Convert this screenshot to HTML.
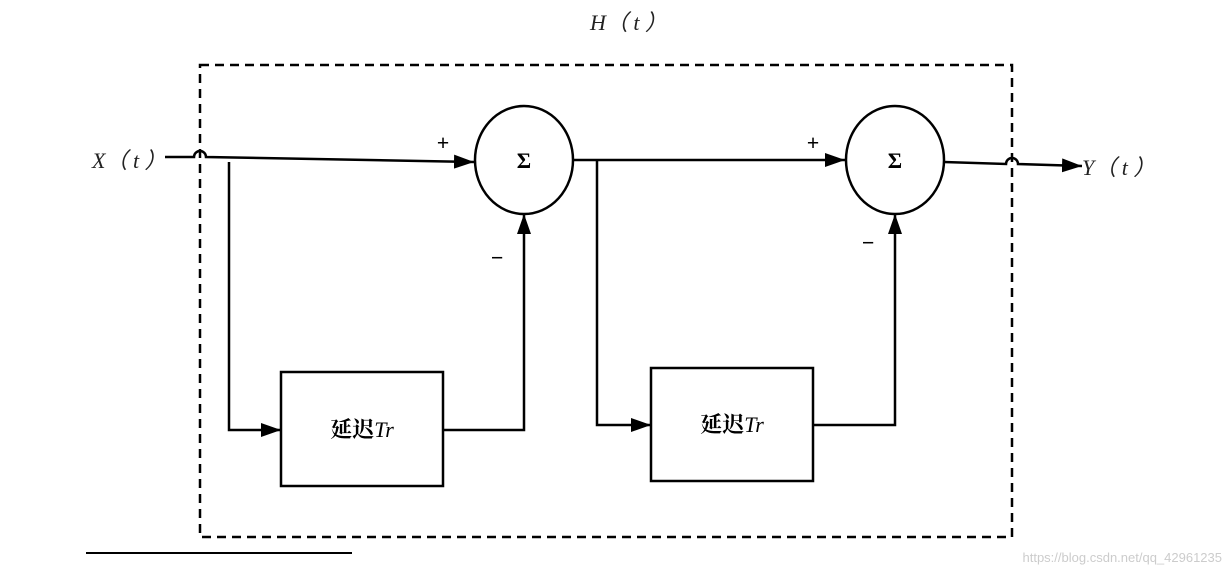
<!DOCTYPE html>
<html><head><meta charset="utf-8"><style>body{margin:0;background:#fff}</style></head><body>
<svg width="1229" height="576" xmlns="http://www.w3.org/2000/svg" style="display:block">
<defs><marker id="a" markerWidth="10" markerHeight="10" refX="9" refY="5" orient="auto" markerUnits="userSpaceOnUse"><path d="M0,0L18,5L0,10z" transform="scale(0.55,1)" fill="#000"/></marker>
<marker id="b" viewBox="0 0 20 14" markerWidth="20" markerHeight="14" refX="20" refY="7" orient="auto" markerUnits="userSpaceOnUse"><path d="M0,0L20,7L0,14z" fill="#000"/></marker></defs>
<g font-family="Liberation Serif, serif" font-style="italic" font-size="22" fill="#222">
<text x="590" y="30">H（ t ）</text>
<text x="92" y="168">X（ t ）</text>
<text x="1082" y="175">Y（ t ）</text>
</g>
<rect x="200" y="65" width="812" height="472" fill="none" stroke="#000" stroke-width="2.5" stroke-dasharray="9,6"/>
<g stroke="#000" stroke-width="2.5" fill="none">
<path d="M165,157H194A6,6 0 0 1 206,157L474,162" marker-end="url(#b)"/>
<path d="M229,162V430H281" marker-end="url(#b)"/>
<path d="M443,430H524V214" marker-end="url(#b)"/>
<ellipse cx="524" cy="160" rx="49" ry="54"/>
<path d="M573,160H845" marker-end="url(#b)"/>
<path d="M597,160V425H651" marker-end="url(#b)"/>
<path d="M813,425H895V214" marker-end="url(#b)"/>
<ellipse cx="895" cy="160" rx="49" ry="54"/>
<path d="M944,162L1006,164A6,6 0 0 1 1018,164L1082,166" marker-end="url(#b)"/>
<rect x="281" y="372" width="162" height="114"/>
<rect x="651" y="368" width="162" height="113"/>
</g>
<g font-family="Liberation Serif, serif" font-weight="bold" font-size="22" text-anchor="middle">
<text x="524" y="168">Σ</text><text x="895" y="168">Σ</text>
<text x="443" y="150">+</text><text x="813" y="150">+</text>
<text x="497" y="265">−</text><text x="868" y="250">−</text>
</g>
<text x="362" y="437" text-anchor="middle" font-size="22" font-family="Liberation Serif, 'Noto Serif CJK SC', serif"><tspan font-weight="bold">延迟</tspan><tspan font-style="italic">Tr</tspan></text>
<text x="732" y="432" text-anchor="middle" font-size="22" font-family="Liberation Serif, 'Noto Serif CJK SC', serif"><tspan font-weight="bold">延迟</tspan><tspan font-style="italic">Tr</tspan></text>
<line x1="86" y1="553" x2="352" y2="553" stroke="#000" stroke-width="2"/>
<text x="1222" y="562" text-anchor="end" font-family="Liberation Sans, sans-serif" font-size="13" fill="#ccc">https://blog.csdn.net/qq_42961235</text>
</svg>
</body></html>
